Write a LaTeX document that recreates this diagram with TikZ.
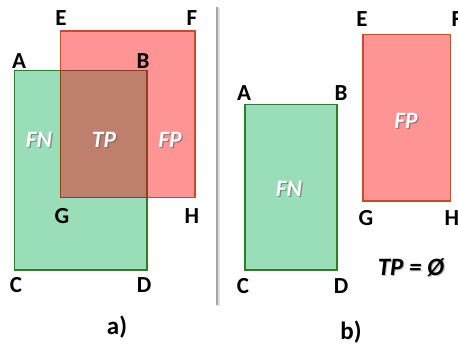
\documentclass[tikz,border=0pt]{standalone}
\usepackage{fontspec}
\setmainfont{Carlito}
\usetikzlibrary{calc}
\definecolor{gfill}{RGB}{153,222,184}
\definecolor{gline}{RGB}{45,125,45}
\definecolor{rfill}{RGB}{255,148,148}
\definecolor{rline}{RGB}{200,75,45}
\definecolor{ofill}{RGB}{190,128,108}
\definecolor{oline}{RGB}{140,65,25}
\definecolor{sepgray}{RGB}{165,165,165}
\tikzset{
  corner/.style={font=\fontsize{23}{26}\selectfont\bfseries, text=black, inner sep=0pt},
  region/.style={font=\fontsize{23.5}{26}\selectfont\bfseries\itshape, inner sep=0pt},
  caption/.style={font=\fontsize{25}{28}\selectfont\bfseries, inner sep=0pt},
  greenbox/.style={fill=gfill, draw=gline, line width=1.3pt},
  redbox/.style={fill=rfill, draw=rline, line width=1.3pt},
  overlapbox/.style={fill=ofill, draw=oline, line width=1.3pt},
}
% white italic label with a soft drop shadow
\newcommand\shadowtext[3]{%
  \node[region, text=black!65, opacity=0.6] (#1s) at ($(#2)+(1.3,1.3)$) {#3};
  \node[region, text=white] (#1) at (#2) {#3};
}
\begin{document}
\begin{tikzpicture}[x=1pt,y=-1pt]
  \useasboundingbox (0,0) rectangle (458,345);
  \fill[white] (0,0) rectangle (458,345);

  % ---- panel a): overlapping boxes ----
  \draw[greenbox] (14.5,70.5) rectangle (147,270);
  \draw[redbox] (60.5,31) rectangle (195,197.5);
  \draw[overlapbox] (60.5,70.5) rectangle (147,197.5);

  \node[corner] (aE) at (61,18) {E};
  \node[corner] (aF) at (192,18) {F};
  \node[corner] (aA) at (19,61) {A};
  \node[corner] (aB) at (143,61) {B};
  \node[corner] (aG) at (62,216) {G};
  \node[corner] (aH) at (192,216) {H};
  \node[corner] (aC) at (16,285) {C};
  \node[corner] (aD) at (144,285) {D};

  \shadowtext{aFN}{39,140}{FN}
  \shadowtext{aTP}{104,140}{TP}
  \shadowtext{aFP}{170,140}{FP}

  \node[caption] (capa) at (117,327) {a)};

  % ---- separator ----
  \draw[black!12, line width=3pt] (218.5,8) -- (218.5,306);
  \draw[sepgray, line width=2.6pt] (217,7) -- (217,305);

  % ---- panel b): disjoint boxes ----
  \draw[greenbox] (245,104.5) rectangle (337,270);
  \draw[redbox] (363,34.5) rectangle (450.5,201);

  \node[corner] (bA) at (244,93) {A};
  \node[corner] (bB) at (341,93) {B};
  \node[corner] (bE) at (362,19) {E};
  \node[corner] (bF) at (457,19) {F};
  \node[corner] (bG) at (366,218) {G};
  \node[corner] (bH) at (452,218) {H};
  \node[corner] (bC) at (243,286) {C};
  \node[corner] (bD) at (341,286) {D};

  \shadowtext{bFN}{289,189}{FN}
  \shadowtext{bFP}{406,121}{FP}

  \node[region, font=\fontsize{25}{28}\selectfont\bfseries\itshape, text=black!45, opacity=0.6] (tpnulls) at (412,269) {TP = Ø};
  \node[region, font=\fontsize{25}{28}\selectfont\bfseries\itshape, text=black] (tpnull) at (411,268) {TP = Ø};

  \node[caption] (capb) at (351,332) {b)};
\end{tikzpicture}
\end{document}
